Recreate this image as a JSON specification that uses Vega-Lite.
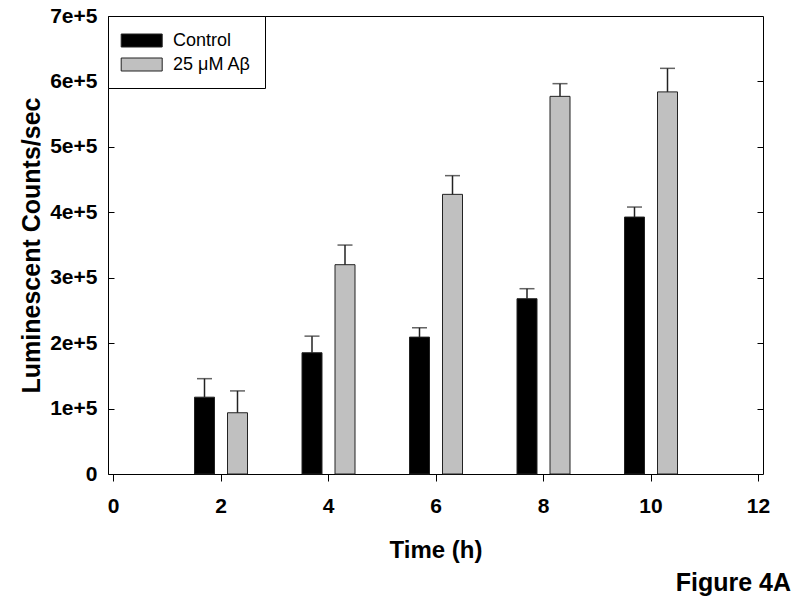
{
  "$schema": "https://vega.github.io/schema/vega-lite/v6.json",
  "autosize": "none",
  "width": 655,
  "height": 458,
  "padding": {"left": 108, "top": 16, "right": 37, "bottom": 126},
  "background": "white",
  "config": {
    "view": {"stroke": "black", "strokeWidth": 1},
    "font": "Liberation Sans",
    "axis": {"domainColor": "black", "tickColor": "black", "grid": false, "labelFont": "Liberation Sans", "labelFontWeight": "bold", "labelFontSize": 21, "labelColor": "black", "titleFont": "Liberation Sans", "titleFontWeight": "bold", "titleFontSize": 24, "titleColor": "black"}
  },
  "title": {"text": "Figure 4A", "orient": "bottom", "anchor": "end", "frame": "group", "font": "Liberation Sans", "fontSize": 25, "fontWeight": "bold", "color": "black", "dx": 28, "offset": 9},
  "data": {"values": [
    {"time": 2, "group": "Control", "mean": 117400, "upper": 145700},
    {"time": 4, "group": "Control", "mean": 185300, "upper": 210700},
    {"time": 6, "group": "Control", "mean": 209200, "upper": 223500},
    {"time": 8, "group": "Control", "mean": 267900, "upper": 283200},
    {"time": 10, "group": "Control", "mean": 392700, "upper": 408000},
    {"time": 2, "group": "25 μM Aβ", "mean": 93600, "upper": 127000},
    {"time": 4, "group": "25 μM Aβ", "mean": 319900, "upper": 349900},
    {"time": 6, "group": "25 μM Aβ", "mean": 427400, "upper": 456000},
    {"time": 8, "group": "25 μM Aβ", "mean": 577200, "upper": 596600},
    {"time": 10, "group": "25 μM Aβ", "mean": 584000, "upper": 620000}
  ]},
  "layer": [
    {
      "layer": [
        {
          "transform": [{"filter": "datum.group === 'Control'"}],
          "mark": {"type": "bar", "width": 20, "xOffset": -16, "stroke": "#222", "strokeWidth": 1},
          "encoding": {
            "x": {"field": "time", "type": "quantitative", "scale": {"domain": [0, 12], "nice": false},
              "axis": {"title": "Time (h)", "values": [0, 2, 4, 6, 8, 10, 12], "format": "d", "tickSize": 7, "labelPadding": 14, "titlePadding": 22, "domain": false}},
            "y": {"field": "mean", "type": "quantitative", "title": "Luminescent Counts/sec", "scale": {"domain": [0, 700000], "nice": false},
              "axis": {"values": [0, 100000, 200000, 300000, 400000, 500000, 600000, 700000], "labelExpr": "datum.value === 0 ? '0' : (datum.value / 100000) + 'e+5'", "tickSize": -6, "labelPadding": 17, "titlePadding": 5, "titleFontSize": 25, "domain": false}},
            "color": {"field": "group", "type": "nominal", "scale": {"domain": ["Control", "25 μM Aβ"], "range": ["#000000", "#c0c0c0"]},
              "legend": {"title": null, "orient": "top-left", "offset": 0, "strokeColor": "black", "fillColor": "white", "padding": 14, "rowPadding": 4, "symbolType": "M-1.13,-0.65H2.97V0.65H-1.13Z", "symbolSize": 400, "symbolStrokeColor": "#333", "symbolStrokeWidth": 1, "symbolOpacity": 1, "labelFont": "Liberation Sans", "labelFontSize": 18, "labelColor": "black", "labelOffset": 30, "labelLimit": 200}}
          }
        },
        {
          "transform": [{"filter": "datum.group !== 'Control'"}],
          "mark": {"type": "bar", "width": 20, "xOffset": 17, "stroke": "#222", "strokeWidth": 1},
          "encoding": {
            "x": {"field": "time", "type": "quantitative"},
            "y": {"field": "mean", "type": "quantitative", "title": "Luminescent Counts/sec"},
            "color": {"field": "group", "type": "nominal"}
          }
        },
        {
          "transform": [{"filter": "datum.group === 'Control'"}],
          "mark": {"type": "rule", "xOffset": -16, "color": "#222", "strokeWidth": 1.5},
          "encoding": {
            "x": {"field": "time", "type": "quantitative"},
            "y": {"field": "mean", "type": "quantitative", "title": "Luminescent Counts/sec"},
            "y2": {"field": "upper"}
          }
        },
        {
          "transform": [{"filter": "datum.group === 'Control'"}],
          "mark": {"type": "tick", "orient": "horizontal", "xOffset": -16, "color": "#222", "thickness": 1.5, "size": 15},
          "encoding": {
            "x": {"field": "time", "type": "quantitative"},
            "y": {"field": "upper", "type": "quantitative", "title": "Luminescent Counts/sec"}
          }
        },
        {
          "transform": [{"filter": "datum.group !== 'Control'"}],
          "mark": {"type": "rule", "xOffset": 17, "color": "#222", "strokeWidth": 1.5},
          "encoding": {
            "x": {"field": "time", "type": "quantitative"},
            "y": {"field": "mean", "type": "quantitative", "title": "Luminescent Counts/sec"},
            "y2": {"field": "upper"}
          }
        },
        {
          "transform": [{"filter": "datum.group !== 'Control'"}],
          "mark": {"type": "tick", "orient": "horizontal", "xOffset": 17, "color": "#222", "thickness": 1.5, "size": 15},
          "encoding": {
            "x": {"field": "time", "type": "quantitative"},
            "y": {"field": "upper", "type": "quantitative", "title": "Luminescent Counts/sec"}
          }
        }
      ]
    },
    {
      "mark": {"type": "rule", "opacity": 0},
      "encoding": {
        "y": {"field": "mean", "type": "quantitative",
          "axis": {"orient": "right", "title": null, "labels": false, "values": [100000, 200000, 300000, 400000, 500000, 600000], "tickSize": -6, "domain": false}}
      }
    }
  ],
  "resolve": {"axis": {"y": "independent"}}
}
